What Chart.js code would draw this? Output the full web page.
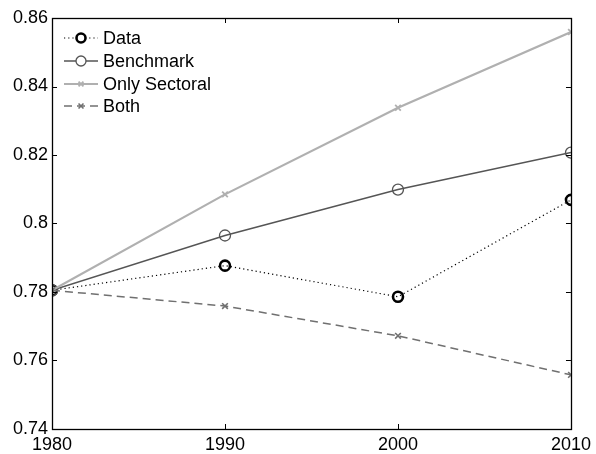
<!DOCTYPE html>
<html>
<head>
<meta charset="utf-8">
<script src="https://cdn.jsdelivr.net/npm/chart.js@4/dist/chart.umd.min.js"></script>
<style>
html,body{margin:0;padding:0;background:#fff;}
#wrap{width:596px;height:454px;position:relative;}
</style>
</head>
<body>
<div id="wrap"><canvas id="c" width="596" height="454"></canvas></div>
<script>
const years = [1980, 1990, 2000, 2010];
const dataSeries = [0.7805, 0.7877, 0.7786, 0.8069];
const benchmark = [0.7805, 0.7965, 0.8099, 0.8207];
const onlySectoral = [0.7805, 0.8085, 0.8338, 0.8559];
const both = [0.7805, 0.7759, 0.7672, 0.7558];
const yTicks = [0.74, 0.76, 0.78, 0.80, 0.82, 0.84, 0.86];
const xTicks = [1980, 1990, 2000, 2010];
const seriesNames = ['Data', 'Benchmark', 'Only Sectoral', 'Both'];

const FONT = '"Liberation Sans", Arial, Helvetica, sans-serif';
const pts = arr => years.map((y, i) => ({x: y, y: arr[i]}));

const styles = [
  {color:'#000000', width:1.2, dash:[1.2,3], pointStyle:'circle', radius:5, pbw:2.6},
  {color:'#555555', width:1.5, dash:[], pointStyle:'circle', radius:5.5, pbw:1.3},
  {color:'#b0b0b0', width:2.2, dash:[], pointStyle:'crossRot', radius:4, pbw:1.8},
  {color:'#707070', width:1.5, dash:[8,5], pointStyle:'crossRot', radius:4, pbw:1.6}
];
const arrays = [dataSeries, benchmark, onlySectoral, both];

const datasets = arrays.map((a, i) => ({
  label: seriesNames[i],
  data: pts(a),
  borderColor: styles[i].color,
  borderWidth: styles[i].width,
  borderDash: styles[i].dash,
  pointStyle: styles[i].pointStyle,
  pointRadius: styles[i].radius,
  pointBorderWidth: styles[i].pbw,
  pointBorderColor: styles[i].color,
  pointBackgroundColor: 'rgba(0,0,0,0)',
  fill: false,
  tension: 0,
  order: 4 - i
}));

const framePlugin = {
  id: 'frame',
  afterDatasetsDraw(chart) {
    const {ctx, chartArea: a, scales} = chart;
    ctx.save();
    ctx.strokeStyle = '#000';
    ctx.lineWidth = 1;
    ctx.setLineDash([]);
    const tl = 5;
    ctx.beginPath();
    yTicks.forEach(v => {
      const y = Math.round(scales.y.getPixelForValue(v)) + 0.5;
      ctx.moveTo(a.left, y); ctx.lineTo(a.left + tl, y);
      ctx.moveTo(a.right, y); ctx.lineTo(a.right - tl, y);
    });
    xTicks.forEach(v => {
      const x = Math.round(scales.x.getPixelForValue(v)) + 0.5;
      ctx.moveTo(x, a.bottom); ctx.lineTo(x, a.bottom - tl);
      ctx.moveTo(x, a.top); ctx.lineTo(x, a.top + tl);
    });
    ctx.stroke();
    ctx.lineWidth = 1.3;
    ctx.strokeRect(Math.round(a.left) + 0.5, Math.round(a.top) + 0.5,
                   Math.round(a.right - a.left), Math.round(a.bottom - a.top));
    // legend
    const lx0 = a.left + 12, lx1 = a.left + 46, tx = a.left + 51;
    const rowY = [38, 61, 84, 106];
    ctx.font = '18px ' + FONT;
    ctx.textBaseline = 'middle';
    ctx.textAlign = 'left';
    datasets.forEach((d, i) => {
      const s = styles[i];
      const y = rowY[i];
      ctx.save();
      ctx.strokeStyle = s.color;
      ctx.lineWidth = s.width;
      ctx.setLineDash(s.dash);
      ctx.beginPath(); ctx.moveTo(lx0, y); ctx.lineTo(lx1, y); ctx.stroke();
      ctx.setLineDash([]);
      ctx.lineWidth = s.pbw;
      ctx.fillStyle = '#ffffff';
      Chart.helpers.drawPoint(ctx, {pointStyle: s.pointStyle, radius: s.radius - 0.5, borderWidth: s.pbw, rotation: 0}, (lx0 + lx1) / 2, y);
      ctx.restore();
      ctx.fillStyle = '#000';
      ctx.fillText(d.label, tx, y + 1);
    });
    ctx.restore();
  }
};

new Chart(document.getElementById('c'), {
  type: 'line',
  data: { datasets },
  options: {
    responsive: false,
    animation: false,
    devicePixelRatio: 1,
    layout: { padding: { top: 18, right: 23, left: 0, bottom: 0 } },
    plugins: { legend: { display: false }, tooltip: { enabled: false } },
    scales: {
      x: {
        type: 'linear', min: 1980, max: 2010,
        afterBuildTicks: s => { s.ticks = xTicks.map(v => ({value: v})); },
        afterFit: s => { s.height = 25; },
        grid: { display: false, drawTicks: false },
        border: { display: false },
        ticks: { color: '#000', font: { family: FONT, size: 18 }, padding: 5, maxRotation: 0, autoSkip: false,
                 callback: v => String(v) }
      },
      y: {
        type: 'linear', min: 0.74, max: 0.86,
        afterBuildTicks: s => { s.ticks = yTicks.map(v => ({value: v})); },
        afterFit: s => { s.width = 52; },
        grid: { display: false, drawTicks: false },
        border: { display: false },
        ticks: { color: '#000', font: { family: FONT, size: 18 }, padding: 4, autoSkip: false,
                 callback: v => String(Number(v.toFixed(2))) }
      }
    }
  },
  plugins: [framePlugin]
});
</script>
</body>
</html>
